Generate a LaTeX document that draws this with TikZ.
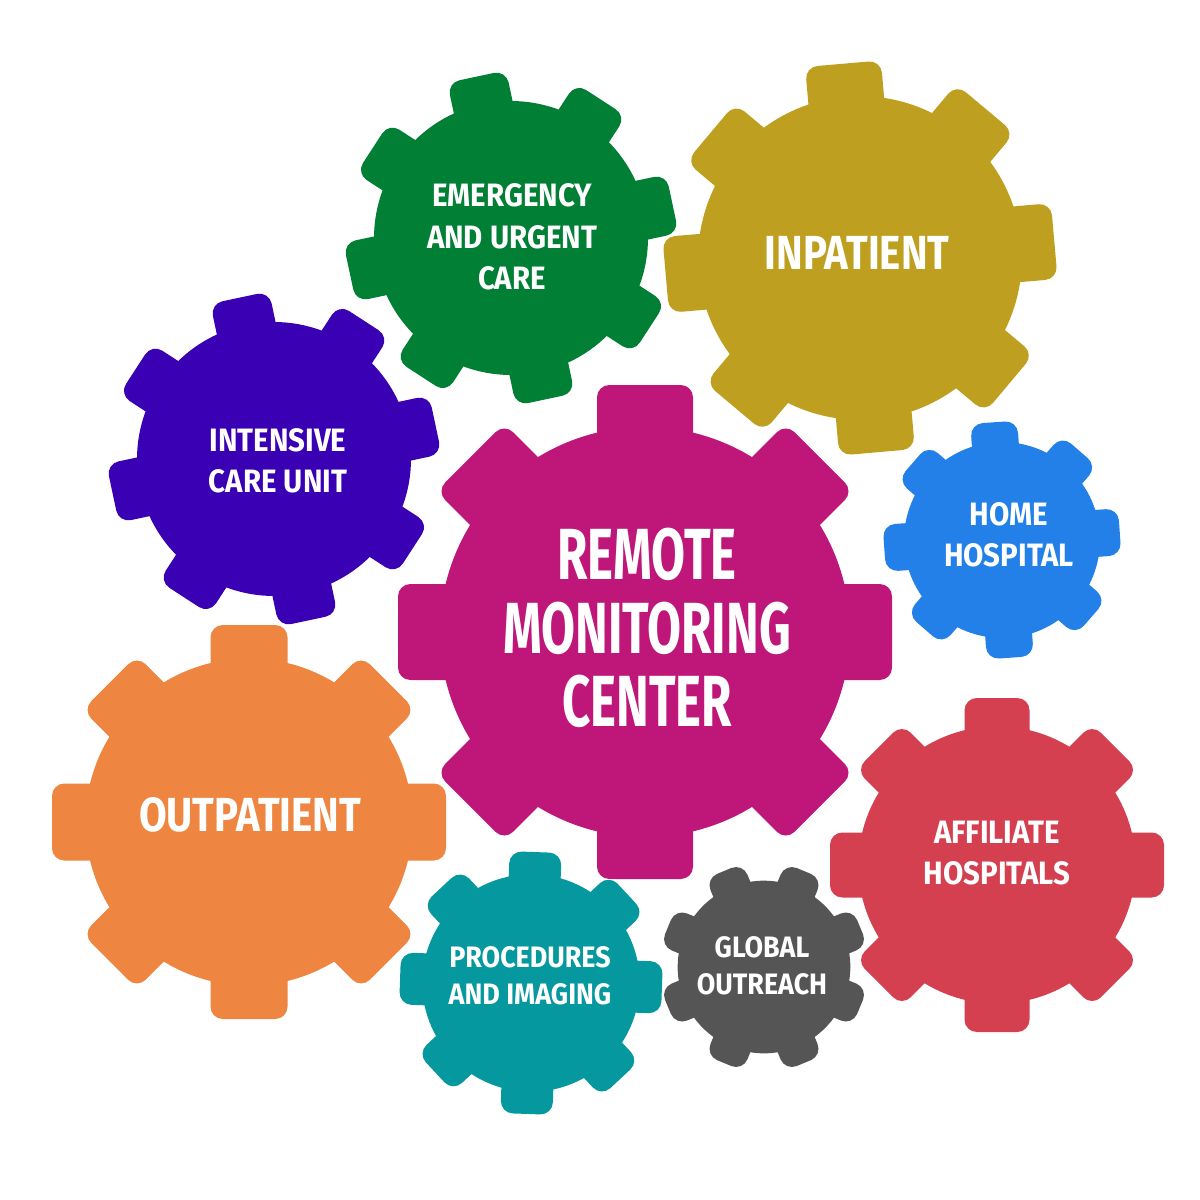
\documentclass[tikz,border=0pt]{standalone}
\usepackage{fontspec}
\newfontfamily\gearfontbig{Fira Sans}[FakeStretch=0.68]
\newfontfamily\gearfontmid{Fira Sans}[FakeStretch=0.84]
\newfontfamily\gearfontsmall{Fira Sans}[FakeStretch=0.91]
\usepackage{tikz}

\definecolor{rmcpink}{HTML}{BE1679}
\definecolor{inpolive}{HTML}{BF9F1F}
\definecolor{emgreen}{HTML}{017F35}
\definecolor{icupurple}{HTML}{3A00B4}
\definecolor{homeblue}{HTML}{2280E8}
\definecolor{outorange}{HTML}{EE8641}
\definecolor{affred}{HTML}{D44050}
\definecolor{procteal}{HTML}{05989E}
\definecolor{globgray}{HTML}{555555}

% gear: centre, outer radius, tooth width, rotation, colour
\newcommand{\drawgear}[5]{%
	\begin{scope}[shift={(#1)}, rotate=#4]
		\fill[#5] (0,0) circle ({0.83*#2});
		\foreach \a in {0,45,...,315}
		\fill[#5, rotate=\a, rounded corners=3.5pt] ({-#3/2},0) rectangle ({#3/2},#2);
	\end{scope}}
\newcommand{\txtsize}[2]{\fontsize{#1}{#2}\selectfont}

\begin{document}
\begin{tikzpicture}[
		x=0.01cm, y=-0.01cm,
		gearlabel/.style={text=white, align=center, inner sep=0pt},
		big/.style={font=\gearfontbig\bfseries\txtsize{20.6}{20.8}},
		mid/.style={font=\gearfontmid\bfseries\txtsize{13.6}{14}},
		small/.style={font=\gearfontsmall\bfseries\txtsize{9.2}{11.8}},
		tiny/.style={font=\gearfontsmall\bfseries\txtsize{8.4}{10.6}}
		]
		
		\fill[white] (0,0) rectangle (1200,1200);
		\useasboundingbox (0,0) rectangle (1200,1200);
		
		% Gears
		\drawgear{645,632}{247}{96}{0}{rmcpink}
		\drawgear{860,258}{195}{76}{5}{inpolive}
		\drawgear{511,238}{165}{60}{12}{emgreen}
		\drawgear{274,459}{165}{60}{12}{icupurple}
		\drawgear{1002,540}{118}{47}{4}{homeblue}
		\drawgear{249,822}{197}{77}{0}{outorange}
		\drawgear{997,865}{167}{65}{0}{affred}
		\drawgear{531,983}{131}{52}{-2}{procteal}
		\drawgear{764,967}{104}{40}{22.5}{globgray}
		
		% Labels
		\node[gearlabel, big] (rmc) at (647,628) {REMOTE\\MONITORING\\CENTER};
		\node[gearlabel, mid] (inp) at (857,253) {INPATIENT};
		\node[gearlabel, small] (emg) at (512,237) {EMERGENCY\\AND URGENT\\CARE};
		\node[gearlabel, small] (icu) at (278,461) {INTENSIVE\\CARE UNIT};
		\node[gearlabel, small] (home) at (1009,535) {HOME\\HOSPITAL};
		\node[gearlabel, mid] (outp) at (250,815) {OUTPATIENT};
		\node[gearlabel, small] (aff) at (997,853) {AFFILIATE\\HOSPITALS};
		\node[gearlabel, tiny] (proc) at (530,976) {PROCEDURES\\AND IMAGING};
		\node[gearlabel, tiny] (glob) at (762,966) {GLOBAL\\OUTREACH};
		
	\end{tikzpicture}
\end{document}
